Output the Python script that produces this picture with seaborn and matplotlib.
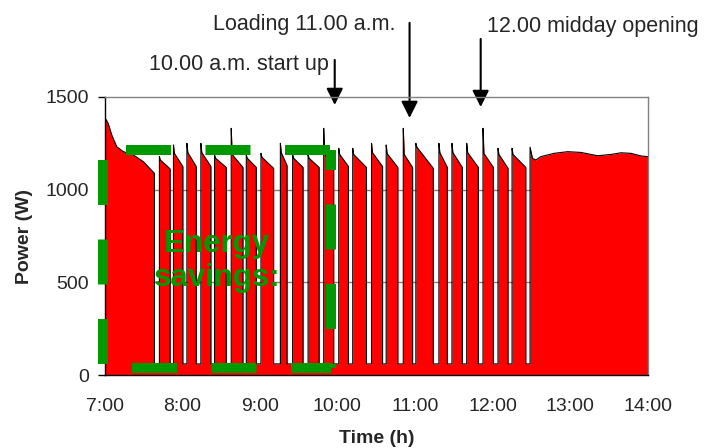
import matplotlib
matplotlib.use("Agg")
import matplotlib.pyplot as plt
import seaborn as sns

# start-up trace, 7:00 until the first switch-off
init_t = [7.0, 7.019, 7.049, 7.093, 7.157, 7.243, 7.372, 7.501, 7.643]
init_w = [1320, 1380, 1355, 1295, 1232, 1205, 1187, 1151, 1088]

# on/off cycles (h) and their power levels (W)
on_start = [7.707, 7.888, 8.061, 8.241, 8.417, 8.632, 8.826, 9.015, 9.265, 9.423,
            9.622, 9.823, 10.017, 10.197, 10.439, 10.628, 10.848, 11.010, 11.307,
            11.475, 11.665, 11.875, 12.068, 12.249]
on_end = [7.845, 8.009, 8.181, 8.370, 8.568, 8.783, 8.955, 9.178, 9.351, 9.557,
          9.764, 9.952, 10.142, 10.374, 10.581, 10.778, 10.968, 11.235, 11.415,
          11.609, 11.815, 12.009, 12.197, 12.426]
peak_w = [1178, 1241, 1250, 1250, 1187, 1331, 1187, 1196, 1250, 1187,
          1187, 1331, 1223, 1223, 1250, 1241, 1331, 1250, 1250,
          1250, 1250, 1331, 1223, 1223]
knee_w = [1160, 1196, 1200, 1200, 1170, 1190, 1170, 1175, 1200, 1170,
          1170, 1195, 1190, 1190, 1200, 1195, 1190, 1230, 1200,
          1200, 1200, 1195, 1190, 1190]
end_w = [1112, 1125, 1125, 1125, 1120, 1120, 1120, 1115, 1130, 1120,
         1120, 1115, 1125, 1120, 1125, 1120, 1120, 1115, 1120,
         1120, 1120, 1120, 1115, 1120]
off_w = 60

# continuous operation from 12:29 to 14:00
last_t = [12.481, 12.512, 12.555, 12.619, 12.791, 12.964, 13.135, 13.351, 13.523,
          13.652, 13.781, 13.910, 14.0]
last_w = [1229, 1169, 1160, 1178, 1196, 1205, 1201, 1183, 1190, 1199, 1196, 1182, 1178]

x_ticks = [7, 8, 9, 10, 11, 12, 13, 14]
x_labels = ["7:00", "8:00", "9:00", "10:00", "11:00", "12:00", "13:00", "14:00"]

# build the trace
t = list(init_t) + [init_t[-1]]
p = list(init_w) + [off_w]
for s, e, pk, kn, en in zip(on_start, on_end, peak_w, knee_w, end_w):
    t += [s, s, s + 0.012, e, e]
    p += [off_w, pk, kn, en, off_w]
t += [last_t[0]] + last_t
p += [off_w] + last_w

sns.set_style("white")
plt.rcParams["font.family"] = ["Liberation Sans", "DejaVu Sans"]

fig, ax = plt.subplots(figsize=(7.12, 4.48), dpi=100)
fig.subplots_adjust(left=0.1468, right=0.9101, bottom=0.1629, top=0.7835)

ax.fill_between(t, p, 0, color="#FF0000", lw=0, zorder=2)
sns.lineplot(x=t, y=p, sort=False, estimator=None, color="black", lw=0.8, ax=ax, zorder=3)

ax.set_xlim(7, 14)
ax.set_ylim(0, 1500)
ax.set_xticks(x_ticks)
ax.set_xticklabels(x_labels)
ax.set_yticks([0, 500, 1000, 1500])
ax.tick_params(axis="x", length=0, pad=16.5, labelsize=14)
ax.tick_params(axis="y", length=5, width=1, color="black", direction="out", pad=6, labelsize=14, left=True)
for v in [500, 1000]:
    ax.axhline(v, color="#808080", lw=1, zorder=1)
for side in ["top", "right"]:
    ax.spines[side].set_color("#808080")
for side in ["left", "bottom"]:
    ax.spines[side].set_color("black")
for sp in ax.spines.values():
    sp.set_linewidth(1)
    sp.set_zorder(4)

ax.set_xlabel("Time (h)", fontsize=14, fontweight="bold", labelpad=11)
ax.set_ylabel("Power (W)", fontsize=14, fontweight="bold", labelpad=9)

# dashed "energy savings" box
green = "#009900"
bx0, bx1, by0, by1 = 6.981, 9.916, 38, 1214
lw = 7.2
ax.plot([bx0, bx0], [by1, by0], color=green, lw=lw, ls=(6.95, (4.5, 3.45)), clip_on=False, zorder=5)
ax.plot([bx0, bx1], [by1, by1], color=green, lw=lw, ls=(5.65, (4.5, 3.45)), clip_on=False, zorder=5)
ax.plot([bx1, bx1], [by1, by0], color=green, lw=lw, ls=(2.5, (4.5, 3.45)), clip_on=False, zorder=5)
ax.plot([bx0, bx1], [by0, by0], color=green, lw=lw, ls=(5.05, (4.5, 3.45)), clip_on=False, zorder=5)
ax.text(8.45, 615, "Energy\nsavings:", color=green, fontsize=22.5, fontweight="bold",
        ha="center", va="center", linespacing=1.15, zorder=6)

# annotations
arrow = dict(arrowstyle="-|>", color="black", lw=1.5, mutation_scale=25, shrinkA=0, shrinkB=0)
ax.annotate("", xy=(9.965, 1457), xytext=(9.965, 1700), arrowprops=arrow, annotation_clip=False)
ax.annotate("", xy=(10.929, 1387), xytext=(10.929, 1900), arrowprops=arrow, annotation_clip=False)
ax.annotate("", xy=(11.845, 1446), xytext=(11.845, 1813), arrowprops=arrow, annotation_clip=False)
ax.text(9.885, 1673, "10.00 a.m. start up", fontsize=15.5, ha="right", va="center", clip_on=False)
ax.text(10.748, 1889, "Loading 11.00 a.m.", fontsize=15.5, ha="right", va="center", clip_on=False)
ax.text(11.923, 1878, "12.00 midday opening", fontsize=15.5, ha="left", va="center", clip_on=False)

fig.savefig("out.png", dpi=100)
